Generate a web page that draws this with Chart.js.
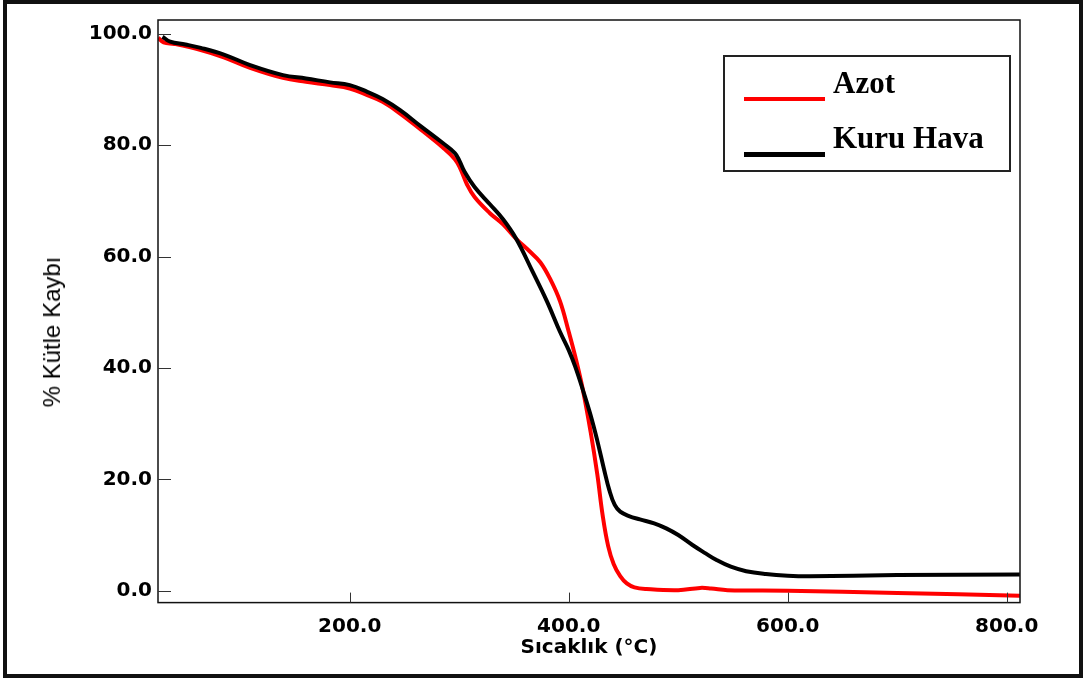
<!DOCTYPE html>
<html>
<head>
<meta charset="utf-8">
<script src="https://cdn.jsdelivr.net/npm/chart.js@4"></script>
<style>
body{margin:0;background:#fff;}
#wrap{position:relative;width:1086px;height:682px;overflow:hidden;}
#c{position:absolute;left:0;top:0;}
#frame{position:absolute;left:3px;top:0;width:1072px;height:670px;border:4px solid #111;pointer-events:none;}
#ytitle{position:absolute;left:52px;top:332px;transform:translate(-50%,-50%) rotate(-90deg);font:24px "Liberation Sans",Arial,sans-serif;white-space:nowrap;color:#000;}
#legend{position:absolute;left:723px;top:55px;width:284px;height:113px;border:2px solid #222;font:bold 31px "Liberation Serif","Times New Roman",serif;color:#000;}
.row{position:absolute;left:0;white-space:nowrap;}
.sw{position:absolute;left:19px;width:81px;}
.lbl{position:absolute;left:108px;}
</style>
</head>
<body>
<div id="wrap">
<canvas id="c" width="1086" height="682"></canvas>
<div id="ytitle">% Kütle Kaybı</div>
<div id="legend">
  <div class="row" style="top:0"><div class="sw" style="top:40px;height:4px;background:#ff0000"></div><div class="lbl" style="top:8px">Azot</div></div>
  <div class="row" style="top:0"><div class="sw" style="top:95px;height:5px;background:#000"></div><div class="lbl" style="top:63px">Kuru Hava</div></div>
</div>
<div id="frame"></div>
</div>
<script>
// Azot (N2) atmosphere
const azotT = [25, 30, 40, 64, 85, 109, 139, 160, 182, 200, 216, 230, 246, 265, 285, 296, 301, 307, 314, 328, 340, 352, 364, 374, 383, 392, 400, 406, 413, 420, 426, 431, 436, 441, 447, 453, 460, 471, 500, 520, 530, 545, 600, 700, 812];
const azotY = [99.3, 98.5, 98.2, 97.1, 95.8, 93.9, 92.1, 91.4, 90.8, 90.2, 89.0, 87.8, 85.7, 82.8, 79.6, 77.5, 75.8, 73.0, 70.7, 67.8, 65.8, 63.2, 61.0, 59.0, 56.0, 52.0, 46.5, 42.0, 36.0, 28.5, 21.0, 13.5, 8.0, 4.8, 2.6, 1.3, 0.6, 0.3, 0.1, 0.5, 0.4, 0.1, 0.0, -0.4, -0.9];
// Kuru hava (dry air) atmosphere
const havaT = [29, 36, 50, 64, 85, 109, 139, 160, 182, 200, 216, 230, 246, 265, 285, 296, 300, 305, 314, 328, 340, 352, 367, 380, 392, 400, 406, 413, 420, 426, 432, 437, 442, 447, 455, 465, 478, 489, 500, 513, 525, 535, 548, 562, 580, 600, 620, 700, 812];
const havaY = [99.5, 98.6, 98.1, 97.5, 96.3, 94.4, 92.6, 92.0, 91.3, 90.8, 89.6, 88.3, 86.3, 83.4, 80.4, 78.6, 77.3, 75.2, 72.5, 69.4, 66.7, 63.2, 57.3, 52.0, 46.5, 43.2, 40.2, 36.0, 31.5, 27.0, 22.0, 18.1, 15.4, 14.2, 13.4, 12.8, 12.1, 11.2, 10.0, 8.2, 6.7, 5.5, 4.3, 3.5, 3.0, 2.7, 2.6, 2.8, 2.9];

const xTicks = [200, 400, 600, 800];
const yTicks = [0, 20, 40, 60, 80, 100];

const toXY = (t, v) => t.map((x, i) => ({x: x, y: v[i]}));

const boxPlugin = {
  id: 'box',
  afterDraw(chart) {
    const ctx = chart.ctx, a = chart.chartArea;
    const xs = chart.scales.x, ys = chart.scales.y;
    ctx.save();
    ctx.strokeStyle = '#111';
    ctx.lineWidth = 1.5;
    ctx.strokeRect(a.left, a.top, a.right - a.left, a.bottom - a.top);
    ctx.lineWidth = 1;
    ctx.strokeStyle = '#333';
    ctx.beginPath();
    yTicks.forEach(v => {
      const y = Math.round(ys.getPixelForValue(v)) + 0.5;
      ctx.moveTo(a.left, y); ctx.lineTo(a.left + 13, y);
    });
    xTicks.forEach(v => {
      const x = Math.round(xs.getPixelForValue(v)) + 0.5;
      ctx.moveTo(x, a.bottom); ctx.lineTo(x, a.bottom - 10);
    });
    ctx.stroke();
    ctx.restore();
  }
};

new Chart(document.getElementById('c'), {
  type: 'line',
  data: {
    datasets: [
      {label: 'Azot', data: toXY(azotT, azotY), borderColor: '#ff0000', borderWidth: 4, pointRadius: 0, tension: 0.4, order: 1},
      {label: 'Kuru Hava', data: toXY(havaT, havaY), borderColor: '#000', borderWidth: 4, pointRadius: 0, tension: 0.4, order: 0}
    ]
  },
  options: {
    responsive: false,
    animation: false,
    layout: {padding: {left: 0, top: 20, right: 66, bottom: 0}},
    plugins: {legend: {display: false}, tooltip: {enabled: false}},
    scales: {
      x: {
        type: 'linear', min: 24.9, max: 812.1,
        afterBuildTicks: s => { s.ticks = xTicks.map(v => ({value: v})); },
        afterFit: s => { s.height = 79.4; },
        grid: {display: false, drawTicks: false},
        border: {display: false},
        ticks: {color: '#000', padding: 12, font: {family: 'DejaVu Sans', weight: 'bold', size: 20}, callback: v => v.toFixed(1), maxRotation: 0},
        title: {display: true, text: 'Sıcaklık (°C)', color: '#000', font: {family: 'DejaVu Sans', weight: 'bold', size: 20}, padding: {top: 0, bottom: 22}}
      },
      y: {
        min: -2.14, max: 102.5,
        afterBuildTicks: s => { s.ticks = yTicks.map(v => ({value: v})); },
        afterFit: s => { s.width = 158; },
        grid: {display: false, drawTicks: false},
        border: {display: false},
        ticks: {color: '#000', padding: 6, font: {family: 'DejaVu Sans', weight: 'bold', size: 20}, callback: v => v.toFixed(1)}
      }
    }
  },
  plugins: [boxPlugin]
});
</script>
</body>
</html>
